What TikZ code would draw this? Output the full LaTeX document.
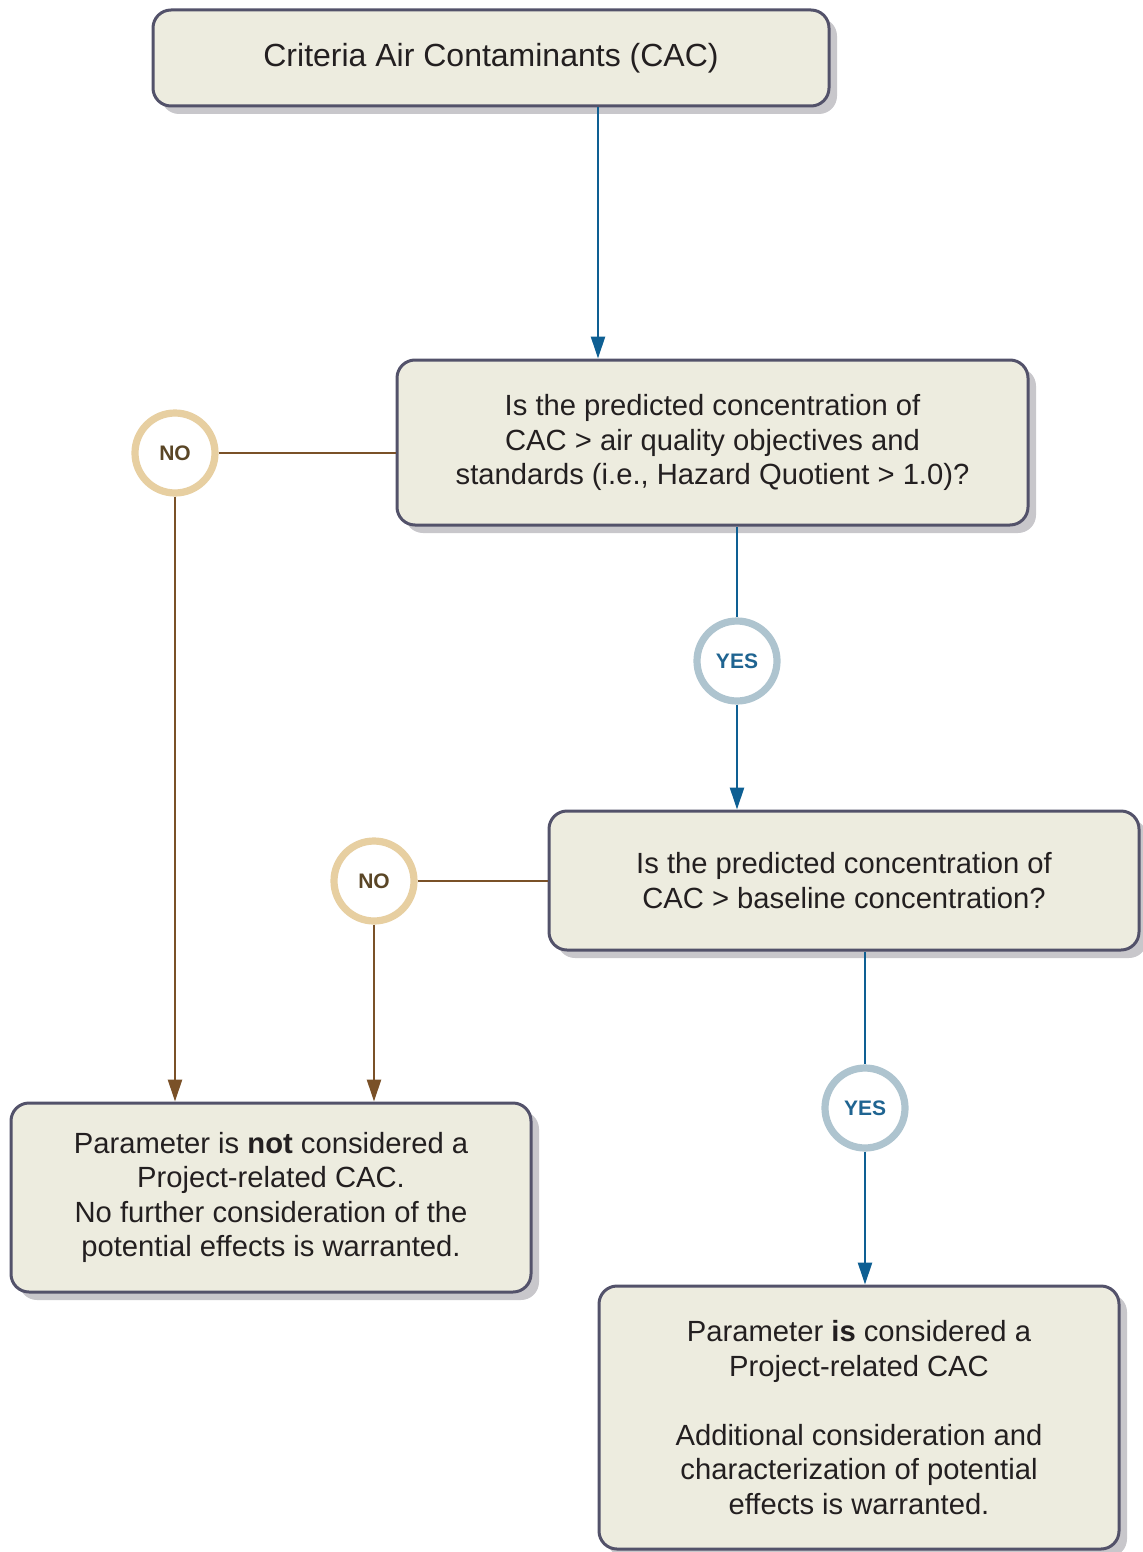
\documentclass[tikz,border=0pt]{standalone}
\usepackage{fontspec}
\setmainfont{Liberation Sans}
\usetikzlibrary{arrows.meta,shadows}
\definecolor{boxfill}{HTML}{EDECDF}
\definecolor{boxline}{HTML}{53526A}
\definecolor{shade}{HTML}{C8C7CB}
\definecolor{ink}{HTML}{231F20}
\definecolor{yesblue}{HTML}{0E5F93}
\definecolor{nobrown}{HTML}{7A5128}
\definecolor{ringno}{HTML}{E7CFA1}
\definecolor{textno}{HTML}{5A4626}
\definecolor{ringyes}{HTML}{AEC4CF}
\definecolor{textyes}{HTML}{1F6491}
\tikzset{
  font=\fontsize{14.6}{17.3}\selectfont,
  >={Triangle[length=11pt,width=7pt]},
  stepbox/.style={draw=boxline, line width=1.5pt, fill=boxfill, rounded corners=9pt,
    align=center, text=ink, inner sep=0pt,
    drop shadow={shadow xshift=4pt, shadow yshift=-4pt, fill=shade, opacity=1}},
  answer/.style={circle, line width=3.6pt, fill=white, minimum size=40pt, inner sep=0pt,
    font=\fontsize{10.5}{12}\selectfont\bfseries},
  noanswer/.style={answer, draw=ringno, text=textno},
  yesanswer/.style={answer, draw=ringyes, text=textyes},
  noline/.style={draw=nobrown, line width=1.3pt},
  yesline/.style={draw=yesblue, line width=1.3pt},
}

\begin{document}
\begin{tikzpicture}[x=0.5pt,y=-0.5pt]
\useasboundingbox (0,0) rectangle (1143,1552);

% ---------------- boxes ----------------
\node[stepbox, minimum width=338pt, minimum height=48pt, font=\fontsize{16}{19}\selectfont]
  (cac) at (491,58) {Criteria Air Contaminants (CAC)};
\node[stepbox, minimum width=315.5pt, minimum height=82.5pt]
  (q1) at (712.5,442.5) {Is the predicted concentration of\\CAC > air quality objectives and\\standards (i.e., Hazard Quotient > 1.0)?};
\node[stepbox, minimum width=295pt, minimum height=69.5pt]
  (q2) at (844,880.5) {Is the predicted concentration of\\CAC > baseline concentration?};
\node[stepbox, minimum width=260pt, minimum height=94.5pt]
  (notcac) at (271,1197.5) {Parameter is \textbf{not} considered a\\Project-related CAC.\\No further consideration of the\\potential effects is warranted.};
\node[stepbox, minimum width=260pt, minimum height=131.5pt]
  (iscac) at (859,1417.5) {Parameter \textbf{is} considered a\\Project-related CAC\\[17.3pt]Additional consideration and\\characterization of potential\\effects is warranted.};

% ---------------- answers ----------------
\node[noanswer] (no1) at (175,453) {NO};
\node[yesanswer] (yes1) at (737,661) {YES};
\node[noanswer] (no2) at (374,881) {NO};
\node[yesanswer] (yes2) at (865,1108) {YES};

% ---------------- connectors ----------------
\draw[yesline,->] (cac.south) ++(107,0) coordinate (c1) -- (c1 |- q1.north);
\draw[noline] (no1.east) -- (no1 -| q1.west);
\draw[noline,->] (no1.south) -- (no1 |- notcac.north);
\draw[yesline] (yes1 |- q1.south) -- (yes1.north);
\draw[yesline,->] (yes1.south) -- (yes1 |- q2.north);
\draw[noline] (no2.east) -- (no2 -| q2.west);
\draw[noline,->] (no2.south) -- (no2 |- notcac.north);
\draw[yesline] (yes2 |- q2.south) -- (yes2.north);
\draw[yesline,->] (yes2.south) -- (yes2 |- iscac.north);

\end{tikzpicture}
\end{document}
